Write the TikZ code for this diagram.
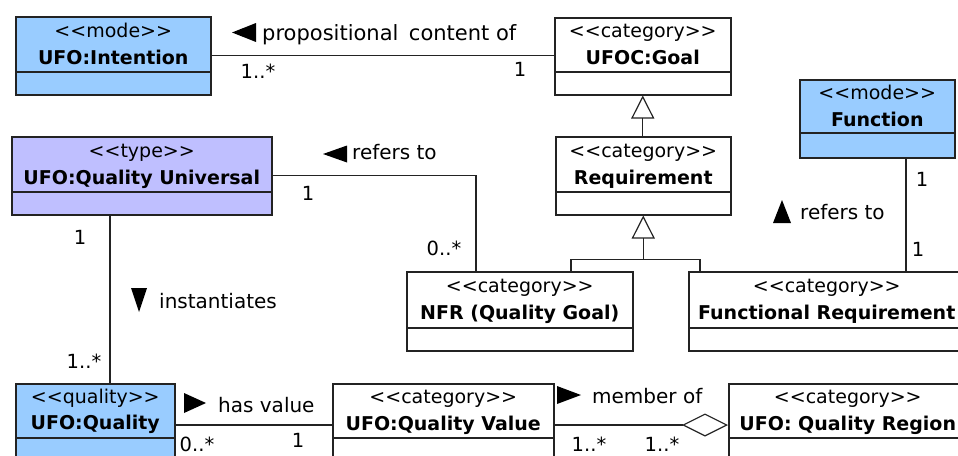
\documentclass[tikz,border=0pt]{standalone}
\usepackage{fontspec}
\setmainfont{DejaVu Sans}[Ligatures=TeXOff]
\usetikzlibrary{arrows.meta}
\definecolor{ufoblue}{RGB}{153,204,255}
\definecolor{ufolav}{RGB}{191,191,255}
\definecolor{edgecol}{RGB}{35,35,35}
\newcommand{\stereo}[1]{<\kern0pt<#1>\kern0pt>}
\begin{document}
\begin{tikzpicture}[x=1pt,y=-1pt,
  cls/.style={draw=edgecol, line width=1.5pt, rectangle, inner sep=0pt, anchor=north west,
    path picture={\draw[edgecol, line width=1.5pt]
      ([yshift=#1]path picture bounding box.south west) --
      ([yshift=#1]path picture bounding box.south east);}},
  cls/.default=23pt,
  st/.style={anchor=base, inner sep=0pt, font=\fontsize{19}{23}\selectfont},
  nm/.style={anchor=base, inner sep=0pt, font=\fontsize{19}{23}\selectfont\bfseries},
  lbl/.style={anchor=base west, inner sep=0pt, font=\fontsize{20}{24}\selectfont},
  mult/.style={anchor=center, inner sep=0pt, font=\fontsize{19.5}{23}\selectfont},
  assoc/.style={draw=edgecol, line width=1.2pt},
  gen/.style={assoc, -{Triangle[open, length=23pt, width=23pt]}},
  agg/.style={assoc, -{Diamond[open, length=46pt, width=23pt]}},
  marker/.style={fill=black},
]
\useasboundingbox (0,0) rectangle (958,455);
\clip (0,0) rectangle (958,455);

% classes
\node[cls, fill=ufoblue, minimum width=195pt, minimum height=78pt] (intention) at (15,16) {};
\node[st] (intentionS) at ([yshift=-21pt]intention.north) {\stereo{mode}};
\node[nm] (intentionN) at ([yshift=-48pt]intention.north) {UFO:Intention};

\node[cls, fill=white, minimum width=176pt, minimum height=77pt] (goal) at (554,17) {};
\node[st] (goalS) at ([yshift=-20.5pt]goal.north) {\stereo{category}};
\node[nm] (goalN) at ([yshift=-47.5pt]goal.north) {UFOC:Goal};

\node[cls, fill=white, minimum width=175pt, minimum height=78pt] (requirement) at (555,136) {};
\node[st] (requirementS) at ([yshift=-21pt]requirement.north) {\stereo{category}};
\node[nm] (requirementN) at ([yshift=-48pt]requirement.north) {Requirement};

\node[cls=25pt, fill=ufoblue, minimum width=155pt, minimum height=78pt] (function) at (799,79) {};
\node[st] (functionS) at ([yshift=-20.5pt]function.north) {\stereo{mode}};
\node[nm] (functionN) at ([yshift=-47.5pt]function.north) {Function};

\node[cls, fill=ufolav, minimum width=260pt, minimum height=78pt] (qu) at (11,136) {};
\node[st] (quS) at ([yshift=-21pt]qu.north) {\stereo{type}};
\node[nm] (quN) at ([yshift=-48pt]qu.north) {UFO:Quality Universal};

\node[cls, fill=white, minimum width=226pt, minimum height=79pt] (nfr) at (406,271) {};
\node[st] (nfrS) at ([yshift=-21pt]nfr.north) {\stereo{category}};
\node[nm] (nfrN) at ([yshift=-48pt]nfr.north) {NFR (Quality Goal)};

\node[cls, fill=white, minimum width=276pt, minimum height=79pt] (fr) at (688,271) {};
\node[st] (frS) at ([yshift=-21pt]fr.north) {\stereo{category}};
\node[nm] (frN) at ([yshift=-48pt]fr.north) {Functional Requirement};

\node[cls, fill=ufoblue, minimum width=159pt, minimum height=77pt] (quality) at (15,383) {};
\node[st] (qualityS) at ([yshift=-20pt]quality.north) {\stereo{quality}};
\node[nm] (qualityN) at ([yshift=-46pt]quality.north) {UFO:Quality};

\node[cls, fill=white, minimum width=221pt, minimum height=77pt] (qv) at (332,383) {};
\node[st] (qvS) at ([yshift=-20.5pt]qv.north) {\stereo{category}};
\node[nm] (qvN) at ([yshift=-47.5pt]qv.north) {UFO:Quality Value};

\node[cls, fill=white, minimum width=238pt, minimum height=77pt] (region) at (728,383) {};
\node[st] (regionS) at ([yshift=-20.5pt]region.north) {\stereo{category}};
\node[nm] (regionN) at ([yshift=-47.5pt]region.north) {UFO: Quality Region};

% connectors
\draw[assoc] (intention.east) -- (intention.east -| goal.west);
\draw[gen] ([xshift=-0.5pt]requirement.north) -- ([xshift=-0.5pt]requirement.north |- goal.south);
\coordinate (genjoin) at ([yshift=-44pt]requirement.south);
\draw[gen] (genjoin) -- (requirement.south);
\draw[assoc] ([xshift=165pt]nfr.north west) |- (genjoin) -| ([xshift=12pt]fr.north west);
\draw[assoc] (qu.east) -| ([xshift=70pt]nfr.north west);
\coordinate (fA) at ([xshift=107pt]function.south west);
\draw[assoc] (fA) -- (fA |- fr.north);
\coordinate (qA) at ([xshift=99pt]qu.south west);
\draw[assoc] (qA) -- (qA |- quality.north);
\draw[assoc] ([yshift=-42pt]quality.north east) -- ([yshift=-42pt]qv.north west);
\draw[agg] ([yshift=-42pt]qv.north east) -- ([yshift=-42pt]region.north west);

% association labels
\node[lbl, font=\fontsize{21}{25}\selectfont] (pc) at (262,40) {propositional\hspace{0.5em}content of};
\fill[marker] ([shift={(-30,-7.5)}]pc.base west) -- ([shift={(-6,-17)}]pc.base west) -- ([shift={(-6,2)}]pc.base west) -- cycle;
\node[lbl] (rq) at (352,159) {refers to};
\fill[marker] ([shift={(-29,-5)}]rq.base west) -- ([shift={(-5,-13.5)}]rq.base west) -- ([shift={(-5,3.5)}]rq.base west) -- cycle;
\node[lbl] (inst) at (159,308) {instantiates};
\fill[marker] ([shift={(-28,-20)}]inst.base west) -- ([shift={(-12,-20)}]inst.base west) -- ([shift={(-20,4)}]inst.base west) -- cycle;
\node[lbl] (rf) at (800,219) {refers to};
\fill[marker] ([shift={(-18,-19)}]rf.base west) -- ([shift={(-27,4)}]rf.base west) -- ([shift={(-9,4)}]rf.base west) -- cycle;
\node[lbl] (hv) at (218,412) {has value};
\fill[marker] ([shift={(-34,-19)}]hv.base west) -- ([shift={(-34,1)}]hv.base west) -- ([shift={(-12,-9)}]hv.base west) -- cycle;
\node[lbl] (mo) at (592,403) {member of};
\fill[marker] ([shift={(-35,-17)}]mo.base west) -- ([shift={(-35,1)}]mo.base west) -- ([shift={(-11,-8)}]mo.base west) -- cycle;

% multiplicities
\node[mult] (m1) at (258,71) {1..*};
\node[mult] (m2) at (520,69) {1};
\node[mult] (m3) at (308,193) {1};
\node[mult] (m4) at (444,248) {0..*};
\node[mult] (m5) at (922,179) {1};
\node[mult] (m6) at (918,249) {1};
\node[mult] (m7) at (80,237) {1};
\node[mult] (m8) at (84,361) {1..*};
\node[mult] (m9) at (197,444) {0..*};
\node[mult] (m10) at (298,440) {1};
\node[mult] (m11) at (589,444) {1..*};
\node[mult] (m12) at (662,444) {1..*};
\end{tikzpicture}
\end{document}
